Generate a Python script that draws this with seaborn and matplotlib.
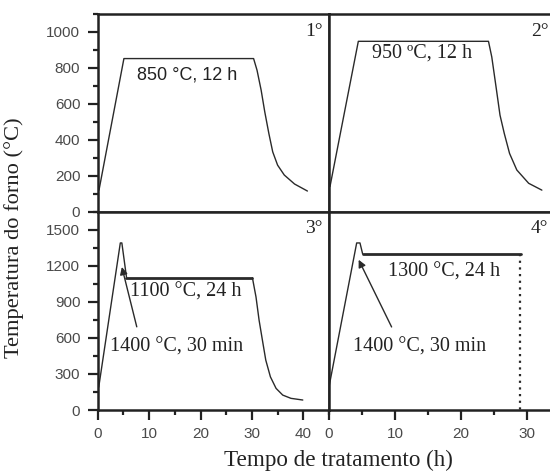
import matplotlib
matplotlib.use("Agg")
import matplotlib.pyplot as plt
import seaborn as sns
import pandas as pd
from matplotlib.ticker import MultipleLocator

# ---- data ----
p1_t = [0.25, 5.1, 30.33, 31.0, 31.8, 32.5, 33.3, 34.05, 35.0, 36.3, 38.3, 40.8]
p1_T = [120, 852, 852, 787, 676, 556, 435, 333, 259, 204, 154, 115]

p2_t = [0.15, 4.45, 24.2, 24.7, 25.35, 25.95, 26.6, 27.4, 28.5, 30.3, 32.3]
p2_T = [140, 948, 948, 861, 694, 537, 435, 324, 232, 158, 120]

p3_ramp_t = [0.2, 4.4, 4.7, 5.6]
p3_ramp_T = [190, 1390, 1390, 1105]
p3_plat_t = [5.6, 30.1]
p3_plat_T = [1100, 1100]
p3_cool_t = [30.1, 30.8, 31.4, 32.1, 32.7, 33.6, 34.7, 36.0, 37.6, 39.9]
p3_cool_T = [1100, 940, 747, 567, 415, 276, 180, 124, 97, 83]

p4_ramp_t = [0.05, 4.2, 4.7, 5.1]
p4_ramp_T = [207, 1390, 1390, 1300]
p4_plat_t = [5.1, 29.2]
p4_plat_T = [1300, 1300]
p4_drop_t = [29.0, 29.0]
p4_drop_T = [1300, 0]

panel_labels = ["1°", "2°", "3°", "4°"]
ylabel = "Temperatura do forno (°C)"
xlabel = "Tempo de tratamento (h)"

sns.set_style("ticks")
plt.rcParams['font.family'] = ['Liberation Serif', 'DejaVu Serif']

W, H = 550, 473
fig = plt.figure(figsize=(W / 100, H / 100), dpi=100)

def frac(x0, y0, x1, y1):
    return [x0 / W, 1 - y1 / H, (x1 - x0) / W, (y1 - y0) / H]

ax1 = fig.add_axes(frac(97.7, 14, 329, 211.7))
ax2 = fig.add_axes(frac(329, 14, 329 + 35 * 6.59, 211.7))
ax3 = fig.add_axes(frac(97.7, 211.7, 329, 410))
ax4 = fig.add_axes(frac(329, 211.7, 329 + 35 * 6.59, 410))

lc = "#2a2a2a"
txtc = "#222222"

def line(ax, t, T, lw=1.0, ls="-"):
    df = pd.DataFrame({"t": t, "T": T})
    sns.lineplot(data=df, x="t", y="T", ax=ax, sort=False, estimator=None,
                 color=lc, lw=lw, linestyle=ls)

line(ax1, p1_t, p1_T)
line(ax2, p2_t, p2_T)
line(ax3, p3_ramp_t, p3_ramp_T)
line(ax3, p3_plat_t, p3_plat_T, lw=2.0)
line(ax3, p3_cool_t, p3_cool_T)
line(ax4, p4_ramp_t, p4_ramp_T)
line(ax4, p4_plat_t, p4_plat_T, lw=2.0)
line(ax4, p4_drop_t, p4_drop_T, lw=1.6, ls=(0, (1, 2)))

for ax in (ax1, ax2):
    ax.set_ylim(0, 1100)
for ax in (ax3, ax4):
    ax.set_ylim(0, 1650)
for ax in (ax1, ax3):
    ax.set_xlim(0, 45)
for ax in (ax2, ax4):
    ax.set_xlim(0, 35)

for ax in (ax1, ax2, ax3, ax4):
    ax.set_xlabel("")
    ax.set_ylabel("")
    for s in ax.spines.values():
        s.set_visible(True)
        s.set_linewidth(1.8)
        s.set_color("#222222")
    ax.tick_params(which="major", direction="out", length=7.5, width=1.6,
                   color="#222222", labelcolor="#4a4a4a", pad=5)
    ax.tick_params(which="minor", direction="out", length=3.8, width=1.6,
                   color="#222222")
    ax.set_facecolor("white")

ax1.yaxis.set_major_locator(MultipleLocator(200))
ax1.yaxis.set_minor_locator(MultipleLocator(100))
ax3.yaxis.set_major_locator(MultipleLocator(300))
ax3.yaxis.set_minor_locator(MultipleLocator(150))
for ax in (ax1, ax2, ax3, ax4):
    ax.xaxis.set_major_locator(MultipleLocator(10))
    ax.xaxis.set_minor_locator(MultipleLocator(5))
for ax in (ax2, ax4):
    ax.tick_params(axis="y", which="both", left=False, labelleft=False)
for ax in (ax1, ax2):
    ax.tick_params(axis="x", which="both", bottom=False, labelbottom=False)

for ax in (ax1, ax3, ax4):
    for lab in ax.get_xticklabels() + ax.get_yticklabels():
        lab.set_fontfamily("Liberation Sans")
        lab.set_fontsize(11)

# annotations
ax1.text(7.6, 760, "850 °C, 12 h", family="Liberation Sans", fontsize=13,
         color=txtc, va="center", ha="left")
ax2.text(6.5, 880, "950 ºC, 12 h", fontsize=14.5, color=txtc,
         va="center", ha="left")
ax3.text(6.2, 985, "1100 °C, 24 h", fontsize=14.5, color=txtc,
         va="center", ha="left")
ax3.text(2.4, 525, "1400 °C, 30 min", fontsize=14.5, color=txtc,
         va="center", ha="left")
ax3.annotate("", xy=(4.7, 1190), xytext=(7.6, 692),
             arrowprops=dict(arrowstyle="-|>", color=lc, lw=1.0,
                             mutation_scale=11, shrinkA=0, shrinkB=0))
ax4.text(8.9, 1150, "1300 °C, 24 h", fontsize=14.5, color=txtc,
         va="center", ha="left")
ax4.text(3.6, 525, "1400 °C, 30 min", fontsize=14.5, color=txtc,
         va="center", ha="left")
ax4.annotate("", xy=(4.5, 1250), xytext=(9.5, 691),
             arrowprops=dict(arrowstyle="-|>", color=lc, lw=1.0,
                             mutation_scale=11, shrinkA=0, shrinkB=0))

# panel labels
ax1.text(43.8, 1000, panel_labels[0], fontsize=14, color=txtc, ha="right", va="center")
ax2.text(33.3, 1000, panel_labels[1], fontsize=14, color=txtc, ha="right", va="center")
ax3.text(43.8, 1508, panel_labels[2], fontsize=14, color=txtc, ha="right", va="center")
ax4.text(33.3, 1508, panel_labels[3], fontsize=14, color=txtc, ha="right", va="center")

fig.text(14 / W, 1 - 238 / H, ylabel, rotation=90, fontsize=16.2,
         color=txtc, ha="center", va="center")
fig.text(338.5 / W, 1 - 460 / H, xlabel, fontsize=16.7, color=txtc,
         ha="center", va="center")

fig.savefig("out.png", dpi=100, facecolor="white")
